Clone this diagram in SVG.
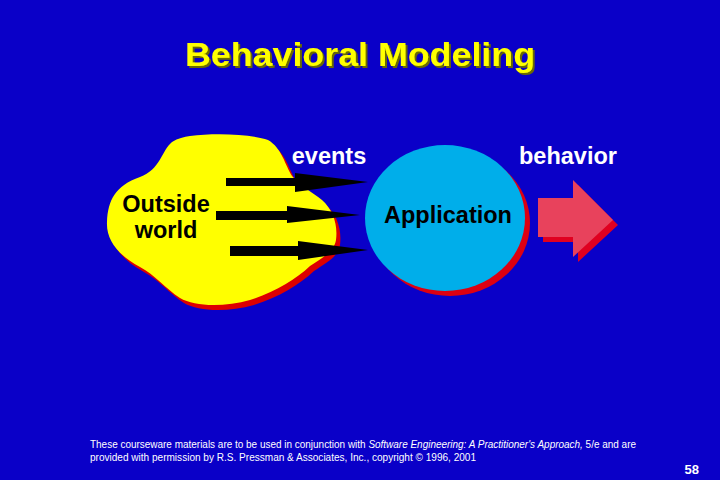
<svg xmlns="http://www.w3.org/2000/svg" width="720" height="480" viewBox="0 0 720 480">
<style>
.lbl{font-family:"Liberation Sans",Arial,sans-serif;font-weight:bold;font-size:23.5px}
.w{fill:#ffffff}
.k{fill:#000000}
.foot{font-family:"Liberation Sans",Arial,sans-serif;font-size:10px;fill:#ffffff}
</style>
<defs>
<filter id="tshadow" x="-5%" y="-20%" width="110%" height="150%">
<feDropShadow dx="2" dy="2" stdDeviation="0" flood-color="#6b6a00" flood-opacity="1"/>
</filter>
<path id="cloud" d="M190,136 C215,133 250,134 268,140 C282,148 285,165 292,176 C300,186 312,192 322,200 C333,210 338,224 336,240 C334,252 322,258 310,266 C295,280 275,292 250,300 C225,307 195,307 180,298 C165,288 155,275 140,267 C118,255 106,240 107,222 C108,200 115,186 140,177 C160,170 162,150 172,142 C178,138 184,137 190,136 Z"/>
<path id="bigarrow" d="M538,198 L573,198 L573,180 L613,220 L573,257 L573,237 L538,237 Z"/>
</defs>
<rect x="0" y="0" width="720" height="480" fill="#0a00c8"/>
<g id="title">
<text x="360" y="66" text-anchor="middle" font-family="Liberation Sans,Arial,sans-serif" font-weight="bold" font-size="33" fill="#ffff00" textLength="350" lengthAdjust="spacingAndGlyphs" filter="url(#tshadow)">Behavioral Modeling</text>
</g>
<g id="outside-world">
<use href="#cloud" transform="translate(4,5)" fill="#dd0000"/>
<use href="#cloud" fill="#ffff00"/>
<text class="lbl k" x="166" y="212" text-anchor="middle">Outside</text>
<text class="lbl k" x="166" y="238" text-anchor="middle">world</text>
</g>
<g id="application">
<ellipse cx="450" cy="223" rx="80" ry="73" fill="#dd0011"/>
<ellipse cx="445" cy="218" rx="80" ry="73" fill="#00aeea"/>
<text class="lbl k" x="448" y="223" text-anchor="middle">Application</text>
</g>
<g id="behavior-arrow">
<use href="#bigarrow" transform="translate(5,5)" fill="#e00020"/>
<use href="#bigarrow" fill="#e8425c"/>
</g>
<g id="connectors">
<polygon points="226,178 295,178 295,173 368,182 295,192 295,186 226,186" fill="#000000"/>
<polygon points="216,211 287,211 287,206 360,215 287,223 287,220 216,220" fill="#000000"/>
<polygon points="230,246 298,246 298,241 368,250 298,260 298,256 230,256" fill="#000000"/>
</g>
<g id="labels">
<text class="lbl w" x="329" y="164" text-anchor="middle">events</text>
<text class="lbl w" x="568" y="164" text-anchor="middle">behavior</text>
</g>
<g id="footer">
<text class="foot" x="90" y="448" textLength="546" lengthAdjust="spacingAndGlyphs">These courseware materials are to be used in conjunction with <tspan font-style="italic">Software Engineering: A Practitioner's Approach,</tspan> 5/e and are</text>
<text class="foot" x="90" y="461" textLength="386" lengthAdjust="spacingAndGlyphs">provided with permission by R.S. Pressman &amp; Associates, Inc., copyright © 1996, 2001</text>
<text x="699" y="474" text-anchor="end" font-family="Liberation Sans,Arial,sans-serif" font-weight="bold" font-size="13" fill="#ffffff">58</text>
</g>
</svg>
